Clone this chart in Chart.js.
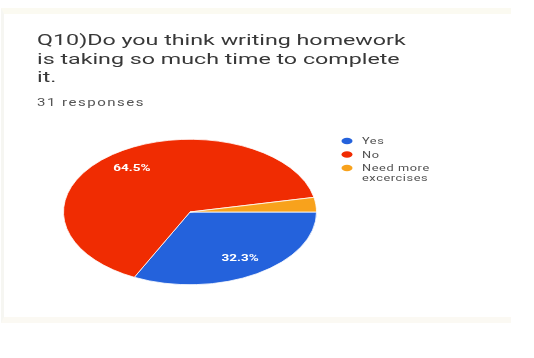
<!DOCTYPE html>
<html>
<head>
<meta charset="utf-8">
<title>Q10 responses</title>
<script src="https://cdn.jsdelivr.net/npm/chart.js@4"></script>
<style>
  html, body { margin: 0; padding: 0; background: #fff; }
  #wrap { position: relative; width: 534px; height: 358px; overflow: hidden; }
  .card {
    position: absolute; left: 1px; top: 8px; width: 507px; height: 303px;
    border-top: 6px solid #fbfaf1;
    border-left: 3px solid #f6f6f2;
    border-bottom: 6px solid #fbf9f3;
    box-sizing: content-box;
  }
  #chart { position: absolute; left: 0; top: 0; }
</style>
</head>
<body>
<div id="wrap">
  <div class="card"></div>
  <canvas id="chart" width="534" height="358"></canvas>
</div>
<script>
// ---- Question & answers ----
var TITLE_LINES = [
  "Q10)Do you think writing homework",
  "is taking so much time to complete",
  "it.",
];
var RESPONSE_TEXT = "31 responses";
var ANSWERS = ["Yes", "No", "Need more excercises"];
var COUNTS  = [10, 20, 1];
var COLORS  = ["#2462dc", "#f02c02", "#f8a21c"];

var TOTAL = COUNTS.reduce(function(a, b) { return a + b; }, 0);

// Google-forms style squashed pie: drawn as a circle, scaled vertically
var PIE_SQUASH = 73 / 127;
// every text is rendered a bit wider than the font
var TEXT_STRETCH = 1.5;

function pct(v) {
  return (v * 100 / TOTAL).toFixed(1) + "%";
}

function wideText(ctx, text, x, y) {
  ctx.save();
  ctx.translate(x, y);
  ctx.scale(TEXT_STRETCH, 1);
  ctx.fillText(text, 0, 0);
  ctx.restore();
}

// squash the arcs around the pie centre
var squashPlugin = {
  id: "squash",
  beforeDatasetsDraw: function(chart) {
    var arc = chart.getDatasetMeta(0).data[0];
    var ctx = chart.ctx;
    ctx.save();
    ctx.translate(arc.x, arc.y);
    ctx.scale(1, PIE_SQUASH);
    ctx.translate(-arc.x, -arc.y);
  },
  afterDatasetsDraw: function(chart) {
    chart.ctx.restore();
  },
};

// percentage labels inside the bigger slices
var sliceLabels = {
  id: "sliceLabels",
  afterDatasetsDraw: function(chart) {
    var ctx = chart.ctx;
    var meta = chart.getDatasetMeta(0);
    ctx.save();
    ctx.fillStyle = "#ffffff";
    ctx.font = "bold 9px Roboto, Arial, sans-serif";
    ctx.textBaseline = "middle";
    meta.data.forEach(function(arc, i) {
      if (COUNTS[i] / TOTAL < 0.05) return;
      var mid = (arc.startAngle + arc.endAngle) / 2;
      var r = arc.outerRadius * 0.75;
      var x = arc.x + Math.cos(mid) * r;
      var y = arc.y + Math.sin(mid) * r * PIE_SQUASH;
      var t = pct(COUNTS[i]);
      var w = ctx.measureText(t).width * TEXT_STRETCH;
      wideText(ctx, t, x - w / 2, y);
    });
    ctx.restore();
  },
};

// title, response count and legend
var headerPlugin = {
  id: "header",
  afterDraw: function(chart) {
    var ctx = chart.ctx;
    ctx.save();
    ctx.textBaseline = "alphabetic";

    ctx.fillStyle = "#383838";
    ctx.font = "15.5px Roboto, Arial, sans-serif";
    TITLE_LINES.forEach(function(line, i) {
      wideText(ctx, line, 37, 45 + i * 18.5);
    });

    ctx.fillStyle = "#555555";
    ctx.font = "10px Roboto, Arial, sans-serif";
    ctx.letterSpacing = "1px";
    wideText(ctx, RESPONSE_TEXT, 37, 106);

    // legend, wrapping long answers
    ctx.font = "8.5px Roboto, Arial, sans-serif";
    ctx.letterSpacing = "0.4px";
    var y = 141;
    ANSWERS.forEach(function(label, i) {
      ctx.fillStyle = COLORS[i];
      ctx.beginPath();
      ctx.ellipse(347, y, 5.5, 3.3, 0, 0, Math.PI * 2);
      ctx.fill();

      var words = label.split(" ");
      var lines = [];
      var cur = "";
      words.forEach(function(wd) {
        var test = cur ? cur + " " + wd : wd;
        if (cur && ctx.measureText(test).width * TEXT_STRETCH > 80) {
          lines.push(cur);
          cur = wd;
        } else {
          cur = test;
        }
      });
      lines.push(cur);

      ctx.fillStyle = "#505050";
      lines.forEach(function(ln, k) {
        wideText(ctx, ln, 362, y + 3 + k * 9.5);
      });
      y += 13.5 + (lines.length - 1) * 9.5;
    });
    ctx.restore();
  },
};

new Chart(document.getElementById("chart"), {
  type: "pie",
  data: {
    labels: ANSWERS,
    datasets: [{
      data:            COUNTS,
      backgroundColor: COLORS,
      borderColor:     "#ffffff",
      borderWidth:     1,
    }],
  },
  options: {
    responsive: false,
    animation:  false,
    rotation:   90,
    layout: { padding: { left: 63, right: 217, top: 85, bottom: 19 } },
    plugins: {
      legend:  { display: false },
      title:   { display: false },
      tooltip: { enabled: false },
    },
  },
  plugins: [squashPlugin, sliceLabels, headerPlugin],
});
</script>
</body>
</html>
